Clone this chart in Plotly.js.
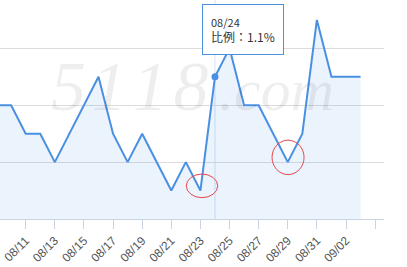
<!DOCTYPE html>
<html>
<head>
<meta charset="utf-8">
<script src="https://cdn.plot.ly/plotly-3.0.1.min.js"></script>
<style>
html,body{margin:0;padding:0;background:#fff;}
#chart{width:407px;height:267px;}
</style>
</head>
<body>
<div id="chart"></div>
<script>
// ---- data ----
const dates = ['08/09','08/10','08/11','08/12','08/13','08/14','08/15','08/16','08/17','08/18',
               '08/19','08/20','08/21','08/22','08/23','08/24','08/25','08/26','08/27','08/28',
               '08/29','08/30','08/31','09/01','09/02','09/03'];
const values = [1.0,1.0,0.9,0.9,0.8,0.9,1.0,1.1,0.9,0.8,
                0.9,0.8,0.7,0.8,0.7,1.1,1.2,1.0,1.0,0.9,
                0.8,0.9,1.3,1.1,1.1,1.1];
const tickLabels = ['08/11','08/13','08/15','08/17','08/19','08/21','08/23','08/25','08/27','08/29','08/31','09/02',''];
const seriesName = '比例';
const hoverDate = '08/24';
const circledDates = ['08/23','08/29'];
const watermarkDigits = ['5','1','1','8'];
const watermarkTail = '.com';

// ---- build ----
const xs = dates.map((d, i) => i);
const first = dates.indexOf(tickLabels[0]);
const tickVals = tickLabels.map((t, i) => first + 2 * i);
const hi = dates.indexOf(hoverDate);

const lineColor = '#4a90e2';

const traces = [
  {
    x: xs, y: values, type: 'scatter', mode: 'lines',
    line: {color: lineColor, width: 2},
    fill: 'tozeroy', fillcolor: 'rgba(74,144,226,0.11)',
    hoverinfo: 'skip'
  },
  {
    x: [xs[hi]], y: [values[hi]], type: 'scatter', mode: 'markers',
    marker: {color: lineColor, size: 7},
    hoverinfo: 'skip'
  }
];

// red hand-drawn style ellipses around two points
const circ = [
  {d: circledDates[0], dx: 0.11, dy: 0.0165, rx: 1.08, ry: 0.0415},
  {d: circledDates[1], dx: 0.02, dy: 0.0167, rx: 1.10, ry: 0.0605}
];
const shapes = [
  {type: 'line', xref: 'x', yref: 'paper', x0: xs[hi], x1: xs[hi], y0: 0, y1: 1,
   line: {color: '#d3e3f4', width: 1}, layer: 'below'}
];
circ.forEach(c => {
  const i = dates.indexOf(c.d);
  const cx = xs[i] + c.dx, cy = values[i] + c.dy;
  shapes.push({type: 'circle', xref: 'x', yref: 'y',
    x0: cx - c.rx, x1: cx + c.rx, y0: cy - c.ry, y1: cy + c.ry,
    line: {color: '#e5474f', width: 1}, layer: 'above'});
});

const annotations = [];
annotations.push({xref: 'paper', yref: 'paper', x: 50/384, y: 1 - 126/219,
  xanchor: 'left', yanchor: 'bottom', text: watermarkDigits.join('\u200A'), showarrow: false, borderpad: 0,
  font: {family: 'Liberation Serif, serif', size: 70, color: 'rgba(0,0,0,0.065)', style: 'italic'}});
annotations.push({xref: 'paper', yref: 'paper', x: 218/384, y: 1 - 124/219, xanchor: 'left', yanchor: 'bottom',
  text: watermarkTail, showarrow: false, borderpad: 0,
  font: {family: 'Liberation Serif, serif', size: 60, color: 'rgba(0,0,0,0.065)', style: 'italic'}});
annotations.push({xref: 'x', yref: 'paper', x: xs[hi], y: 1, xanchor: 'left', yanchor: 'top',
   xshift: -12.8, yshift: -4,
   text: '<span style="font-size:11px">' + dates[hi] + '</span><br>' + seriesName + '：' + values[hi] + '%',
   showarrow: false, align: 'left', valign: 'middle',
   width: 64, height: 33, borderpad: 8,
   bgcolor: '#ffffff', bordercolor: lineColor, borderwidth: 1,
   font: {family: 'Noto Sans CJK TC, Liberation Sans, sans-serif', size: 12, color: '#333333'}});

const layout = {
  width: 407, height: 267,
  margin: {l: 0, r: 23, t: 0, b: 48, pad: 0},
  paper_bgcolor: '#ffffff', plot_bgcolor: '#ffffff',
  showlegend: false,
  xaxis: {
    range: [0.235, 26.61], tickmode: 'array', tickvals: tickVals, ticktext: tickLabels,
    tickangle: -45, ticks: 'outside', ticklen: 9, tickcolor: '#c9d4e2', tickwidth: 1,
    showline: true, linecolor: '#c9d4e2', linewidth: 1,
    showgrid: false, zeroline: false, fixedrange: true,
    tickfont: {family: 'Liberation Sans, Arial, sans-serif', size: 12, color: '#555555'}
  },
  yaxis: {
    range: [0.6, 1.37], tickmode: 'linear', tick0: 0.6, dtick: 0.2,
    showticklabels: false, ticks: '', showgrid: true, gridcolor: '#dcdcdc', gridwidth: 1,
    zeroline: false, showline: false, fixedrange: true
  },
  shapes: shapes,
  annotations: annotations
};

Plotly.newPlot('chart', traces, layout, {displayModeBar: false, staticPlot: true});
</script>
</body>
</html>
